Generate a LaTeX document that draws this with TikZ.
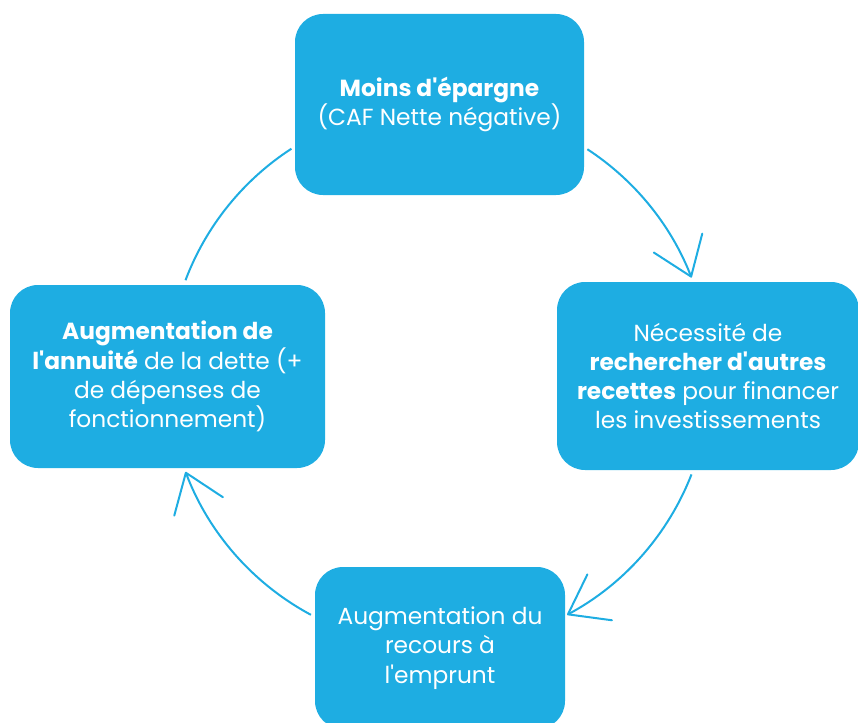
\documentclass[tikz,border=0pt]{standalone}
\usepackage{fontspec}
\setmainfont{Poppins}
\usetikzlibrary{arrows.meta}
\definecolor{cycleblue}{RGB}{30,173,226}
\newcommand{\q}{\textquotesingle}
\tikzset{
  etape/.style={rectangle, rounded corners=28pt, fill=cycleblue, text=white, inner sep=0pt,
    align=center, font=\fontsize{23.3}{29.3}\selectfont},
  trait/.style={draw=cycleblue, line width=2pt},
  fleche/.style={trait, -{Straight Barb[length=36pt, width=52pt, round]}}
}
\begin{document}
\begin{tikzpicture}[x=1pt, y=1pt]
  \clip (0,0) rectangle (858,-722);
  \node[etape, minimum width=289pt, minimum height=181pt] (moins) at (439.5,-104.5)
    {\textbf{Moins d\q épargne}\\(CAF Nette négative)};
  \node[etape, minimum width=302pt, minimum height=188pt] (recettes) at (708,-376)
    {Nécessité de\\\textbf{rechercher d\q autres}\\\textbf{recettes} pour financer\\les investissements};
  \node[etape, minimum width=250pt, minimum height=162pt] (emprunt) at (440,-648)
    {Augmentation du\\recours à\\l\q emprunt};
  \node[etape, minimum width=315pt, minimum height=183pt] (annuite) at (167.5,-376.5)
    {\textbf{Augmentation de}\\\textbf{l\q annuité} de la dette (+\\de dépenses de\\fonctionnement)};
  % arcs of the cycle, all on one circle
  \coordinate (centre) at (439,-376);
  \foreach \debut/\fin/\style in {56.8/21.3/fleche, -21.3/-61.8/fleche, -118.2/-159.3/fleche, 159.3/123/trait}
    \draw[\style] ([shift={(\debut:271)}]centre) arc[start angle=\debut, end angle=\fin, radius=271];
\end{tikzpicture}
\end{document}
